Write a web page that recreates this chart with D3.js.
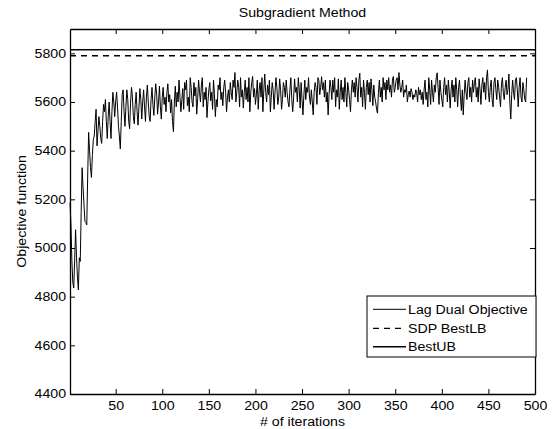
<!DOCTYPE html>
<html>
<head>
<meta charset="utf-8">
<script src="https://cdn.jsdelivr.net/npm/d3@7"></script>
<style>
  body { margin: 0; background: #fff; }
  svg { display: block; font-family: "Liberation Sans", Arial, sans-serif; }
</style>
</head>
<body>
<div id="chart"></div>
<script>
// Lagrangian dual objective per iteration
const lagDual = [
  5186, 5100, 4950, 4860, 4836, 4950, 5075, 4960, 4880, 4828,
  4960, 4945, 5150, 5330, 5250, 5180, 5110, 5105, 5095, 5300,
  5475, 5400, 5330, 5290, 5380, 5445, 5460, 5520, 5570, 5420,
  5480, 5540, 5500, 5450, 5430, 5520, 5590, 5560, 5610, 5520,
  5450, 5540, 5600, 5520, 5450, 5560, 5640, 5600, 5540, 5600,
  5640, 5580, 5500, 5460, 5407, 5520, 5630, 5650, 5560, 5500,
  5580, 5650, 5610, 5520, 5490, 5600, 5660, 5620, 5540, 5510,
  5590, 5640, 5560, 5505, 5580, 5655, 5610, 5530, 5600, 5650,
  5580, 5520, 5620, 5670, 5600, 5540, 5520, 5610, 5660, 5590,
  5545, 5620, 5675, 5630, 5550, 5600, 5665, 5580, 5530, 5620,
  5660, 5590, 5620, 5560, 5640, 5675, 5600, 5630, 5555, 5610,
  5520, 5478, 5600, 5665, 5580, 5640, 5600, 5690, 5620, 5560,
  5610, 5655, 5570, 5680, 5650, 5690, 5585, 5620, 5560, 5700,
  5660, 5600, 5580, 5680, 5625, 5660, 5550, 5615, 5690, 5640,
  5600, 5670, 5700, 5580, 5640, 5610, 5660, 5536, 5600, 5650,
  5680, 5605, 5640, 5570, 5690, 5630, 5540, 5610, 5580, 5670,
  5650, 5700, 5610, 5640, 5585, 5660, 5690, 5640, 5560, 5620,
  5650, 5600, 5680, 5640, 5610, 5690, 5660, 5721, 5600, 5640,
  5690, 5660, 5580, 5700, 5620, 5650, 5575, 5640, 5690, 5610,
  5660, 5600, 5700, 5560, 5640, 5680, 5705, 5620, 5655, 5590,
  5630, 5690, 5570, 5650, 5680, 5620, 5700, 5560, 5650, 5715,
  5640, 5600, 5670, 5630, 5690, 5560, 5620, 5680, 5650, 5570,
  5640, 5700, 5660, 5590, 5620, 5695, 5650, 5570, 5610, 5680,
  5660, 5620, 5690, 5640, 5600, 5580, 5650, 5700, 5610, 5560,
  5620, 5695, 5640, 5660, 5600, 5700, 5650, 5575, 5680, 5610,
  5547, 5630, 5690, 5610, 5660, 5640, 5700, 5620, 5590, 5650,
  5600, 5547, 5640, 5680, 5660, 5590, 5700, 5690, 5630, 5660,
  5704, 5650, 5680, 5620, 5690, 5600, 5640, 5547, 5630, 5690,
  5660, 5610, 5690, 5640, 5700, 5580, 5650, 5620, 5695, 5570,
  5640, 5690, 5610, 5660, 5600, 5700, 5640, 5580, 5680, 5650,
  5610, 5560, 5650, 5690, 5640, 5680, 5620, 5700, 5660, 5600,
  5690, 5718, 5620, 5660, 5580, 5690, 5640, 5570, 5660, 5690,
  5630, 5680, 5600, 5695, 5650, 5585, 5670, 5620, 5600, 5570,
  5554, 5640, 5690, 5620, 5660, 5600, 5700, 5650, 5680, 5610,
  5690, 5650, 5700, 5640, 5670, 5620, 5690, 5705, 5640, 5660,
  5690, 5700, 5650, 5721, 5670, 5640, 5660, 5690, 5620, 5650,
  5640, 5670, 5600, 5630, 5645, 5620, 5655, 5640, 5610, 5630,
  5620, 5650, 5640, 5600, 5660, 5630, 5650, 5610, 5640, 5590,
  5650, 5690, 5610, 5640, 5580, 5700, 5650, 5590, 5690, 5640,
  5600, 5670, 5640, 5700, 5720, 5660, 5590, 5690, 5640, 5610,
  5580, 5660, 5700, 5630, 5670, 5600, 5690, 5640, 5575, 5650,
  5690, 5620, 5670, 5600, 5700, 5650, 5580, 5660, 5690, 5620,
  5565, 5650, 5547, 5630, 5690, 5640, 5610, 5680, 5700, 5620,
  5660, 5600, 5690, 5640, 5680, 5700, 5620, 5660, 5600, 5695,
  5650, 5590, 5670, 5700, 5640, 5680, 5610, 5700, 5732, 5640,
  5600, 5660, 5690, 5610, 5580, 5680, 5700, 5650, 5610, 5690,
  5660, 5620, 5580, 5670, 5700, 5640, 5610, 5660, 5690, 5630,
  5650, 5715, 5600, 5530, 5630, 5690, 5640, 5610, 5690, 5700,
  5650, 5580, 5660, 5700, 5620, 5600, 5680, 5650, 5610, 5600,
  5700
];
const sdpBestLB = 5790;
const bestUB = 5815;

const xTicks = [50, 100, 150, 200, 250, 300, 350, 400, 450, 500];
const yTicks = [4400, 4600, 4800, 5000, 5200, 5400, 5600, 5800];
const legendLabels = ["Lag Dual Objective", "SDP BestLB", "BestUB"];

const width = 558;
const height = 429;
const margin = { top: 29, right: 23, bottom: 35, left: 70 };
const stretch = 1.18; // text in the original is a bit wide

const svg = d3
  .select("#chart")
  .append("svg")
  .attr("width", width)
  .attr("height", height)
  .style("font-size", "12px");

const x = d3
  .scaleLinear()
  .domain([1, 500])
  .range([margin.left, width - margin.right]);

const y = d3
  .scaleLinear()
  .domain([4400, 5900])
  .range([height - margin.bottom, margin.top]);

// data line
const line = d3
  .line()
  .x((d, i) => x(i + 1))
  .y((d) => y(d));

svg
  .append("path")
  .datum(lagDual)
  .attr("fill", "none")
  .attr("stroke", "#000")
  .attr("stroke-width", 1)
  .attr("stroke-linejoin", "round")
  .attr("d", line);

// bounds
svg
  .append("line")
  .attr("x1", x(1))
  .attr("x2", x(500))
  .attr("y1", y(sdpBestLB))
  .attr("y2", y(sdpBestLB))
  .attr("stroke", "#000")
  .attr("stroke-width", 1.3)
  .attr("stroke-dasharray", "6,5");

svg
  .append("line")
  .attr("x1", x(1))
  .attr("x2", x(500))
  .attr("y1", y(bestUB))
  .attr("y2", y(bestUB))
  .attr("stroke", "#000")
  .attr("stroke-width", 1.6);

// axes, matlab style box with inward ticks
const fmt = d3.format("d");

const bottomAxis = svg
  .append("g")
  .attr("transform", `translate(0,${height - margin.bottom})`)
  .call(d3.axisBottom(x).tickValues(xTicks).tickFormat(fmt).tickSizeInner(-5).tickSizeOuter(0).tickPadding(7));

const topAxis = svg
  .append("g")
  .attr("transform", `translate(0,${margin.top})`)
  .call(d3.axisTop(x).tickValues(xTicks).tickSizeInner(-5).tickSizeOuter(0).tickFormat(""));

const leftAxis = svg
  .append("g")
  .attr("transform", `translate(${margin.left},0)`)
  .call(d3.axisLeft(y).tickValues(yTicks).tickFormat(fmt).tickSizeInner(-5).tickSizeOuter(0).tickPadding(4));

const rightAxis = svg
  .append("g")
  .attr("transform", `translate(${width - margin.right},0)`)
  .call(d3.axisRight(y).tickValues(yTicks).tickSizeInner(-5).tickSizeOuter(0).tickFormat(""));

[bottomAxis, topAxis, leftAxis, rightAxis].forEach((a) => {
  a.attr("font-family", null).attr("font-size", null);
  a.select(".domain").attr("stroke", "#000").attr("stroke-width", 1.3);
  a.selectAll(".tick line").attr("stroke", "#000");
  a.selectAll(".tick text").attr("fill", "#000");
});

// titles
svg
  .append("text")
  .attr("x", (margin.left + width - margin.right) / 2)
  .attr("y", 17)
  .attr("text-anchor", "middle")
  .text("Subgradient Method");

svg
  .append("text")
  .attr("x", (margin.left + width - margin.right) / 2)
  .attr("y", 426)
  .attr("text-anchor", "middle")
  .text("# of iterations");

svg
  .append("text")
  .attr("transform", `translate(26,${(margin.top + height - margin.bottom) / 2}) rotate(-90)`)
  .attr("text-anchor", "middle")
  .text("Objective function");

// legend
const legend = svg.append("g").attr("transform", "translate(367,296)");

legend
  .append("rect")
  .attr("width", 169)
  .attr("height", 61)
  .attr("fill", "#fff")
  .attr("stroke", "#000")
  .attr("stroke-width", 1);

const rowY = [13.3, 32.3, 50.7];
const dash = [null, "6,5", null];
const lw = [1, 1.3, 1.6];

legendLabels.forEach((name, i) => {
  legend
    .append("line")
    .attr("x1", 6)
    .attr("x2", 39)
    .attr("y1", rowY[i])
    .attr("y2", rowY[i])
    .attr("stroke", "#000")
    .attr("stroke-width", lw[i])
    .attr("stroke-dasharray", dash[i]);
  legend
    .append("text")
    .attr("x", 41)
    .attr("y", rowY[i])
    .attr("dy", "0.35em")
    .text(name);
});

// widen all text to match original proportions
svg.selectAll("text").each(function () {
  const len = this.getComputedTextLength();
  if (len > 0) {
    d3.select(this)
      .attr("textLength", len * stretch)
      .attr("lengthAdjust", "spacingAndGlyphs");
  }
});
</script>
</body>
</html>
